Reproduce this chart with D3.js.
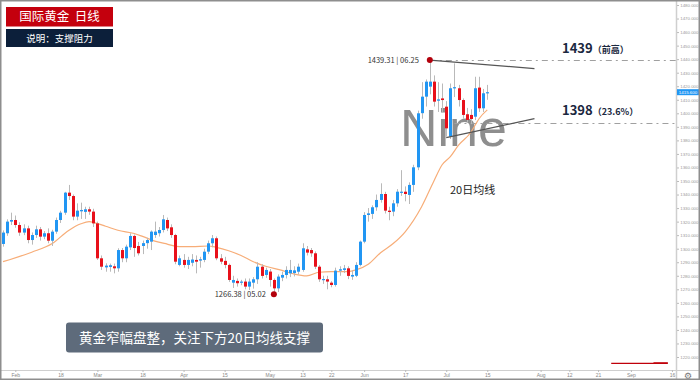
<!DOCTYPE html>
<html><head><meta charset="utf-8">
<script src="https://cdn.jsdelivr.net/npm/d3@7"></script>
<style>
body{margin:0;background:#fff}
svg{display:block}
text{font-family:"Noto Sans CJK SC","Noto Sans",sans-serif}
</style>
</head><body>
<svg id="c" width="700" height="380"></svg>
<script>
// ---- data (index 0 = 29 Jan 2019, one per trading day) ----
const opens=[1303.5,1311.4,1320.0,1321.2,1317.5,1311.9,1315.0,1306.4,1310.1,1314.3,1308.9,1311.4,1305.9,1312.6,1321.2,1326.6,1341.4,1338.9,1323.7,1327.6,
1327.2,1329.1,1327.4,1318.7,1292.9,1286.2,1286.5,1287.0,1285.5,1299.0,1292.9,1301.0,1309.4,1302.0,1302.0,1304.1,1305.2,1310.1,1311.4,1313.8,
1321.2,1315.8,1310.1,1288.0,1291.7,1288.0,1289.6,1291.7,1291.2,1291.7,1297.8,1304.0,1307.7,1292.9,1291.0,1288.0,1274.9,1276.2,1275.4,1275.7,
1272.0,1274.9,1277.4,1286.7,1280.6,1283.1,1276.9,1270.7,1278.6,1280.6,1281.8,1282.0,1283.0,1284.3,1299.5,1299.0,1296.6,1286.7,1277.0,1277.4,
1274.9,1273.2,1283.8,1284.3,1285.5,1279.4,1280.0,1288.0,1305.2,1324.9,1325.7,1330.6,1336.0,1340.4,1328.1,1327.4,1333.5,1341.4,1342.1,1339.7,
1347.1,1360.1,1400.1,1412.3,1419.7,1423.4,1409.3,1411.0,1404.9,1382.8,1418.5,1418.5,1409.8,1399.3,1398.8,1397.5,1419.0,1403.7,1414.8];
const highs=[1313.5,1321.7,1326.6,1324.5,1319.5,1318.0,1317.0,1312.0,1317.0,1316.0,1313.0,1315.0,1314.0,1323.0,1328.0,1342.0,1347.1,1340.0,1333.5,1334.0,
1331.0,1331.0,1329.5,1320.0,1295.0,1289.2,1289.0,1289.0,1300.3,1300.5,1303.0,1311.4,1310.5,1305.0,1306.0,1308.0,1313.5,1320.0,1316.0,1324.9,
1323.0,1318.0,1311.0,1295.0,1296.0,1294.0,1296.0,1295.0,1294.0,1300.0,1306.0,1310.1,1309.0,1296.0,1294.0,1289.0,1280.0,1278.0,1277.0,1278.0,
1278.0,1279.0,1290.0,1288.5,1286.0,1285.0,1278.0,1281.0,1283.0,1287.0,1291.7,1287.0,1289.0,1304.0,1302.0,1300.5,1298.0,1288.0,1280.0,1280.0,
1276.0,1286.0,1287.0,1288.0,1287.0,1284.0,1290.0,1306.0,1327.0,1330.0,1332.0,1340.0,1348.3,1342.0,1331.0,1336.0,1344.0,1358.0,1346.0,1349.0,
1362.0,1402.0,1423.0,1425.0,1439.31,1428.0,1423.0,1422.0,1409.0,1422.0,1436.9,1421.0,1411.0,1404.0,1403.0,1427.0,1427.0,1418.0,1421.0];
const lows=[1301.5,1309.5,1317.5,1315.5,1309.5,1310.0,1304.0,1303.0,1308.0,1306.0,1307.0,1304.0,1302.0,1311.0,1319.0,1325.0,1336.0,1321.0,1321.0,1322.0,
1322.0,1325.0,1316.0,1291.7,1284.3,1283.0,1283.0,1281.8,1283.0,1290.0,1290.0,1299.0,1294.0,1295.0,1296.0,1300.0,1299.0,1308.0,1309.0,1312.0,
1313.0,1308.0,1288.5,1287.0,1286.0,1285.0,1287.0,1281.8,1286.0,1290.0,1296.0,1301.0,1291.5,1288.5,1285.5,1275.5,1271.0,1272.0,1273.0,1270.0,
1269.5,1270.5,1274.0,1278.0,1278.5,1272.0,1266.38,1268.0,1276.0,1278.0,1279.0,1279.5,1281.0,1283.0,1295.0,1294.0,1285.0,1275.5,1274.0,1270.0,
1271.5,1272.0,1280.0,1282.0,1277.5,1277.0,1279.0,1287.0,1304.0,1320.0,1322.0,1328.0,1334.0,1326.0,1321.0,1324.0,1331.0,1339.0,1335.0,1333.0,
1342.0,1358.0,1396.0,1405.0,1414.0,1405.0,1401.0,1401.0,1382.8,1381.0,1412.0,1405.0,1396.0,1393.0,1392.0,1395.0,1401.0,1401.0,1410.0];
const closes=[1311.9,1320.0,1321.2,1317.5,1311.9,1315.0,1306.4,1310.1,1314.3,1308.9,1311.4,1305.9,1312.6,1321.2,1326.6,1341.4,1338.9,1323.7,1328.1,1328.6,
1329.1,1327.4,1318.7,1292.9,1286.7,1287.5,1287.8,1285.5,1299.0,1292.9,1301.5,1309.4,1300.5,1296.6,1304.1,1306.4,1312.6,1312.6,1313.8,1321.7,
1315.0,1310.1,1290.4,1292.9,1288.0,1291.7,1292.0,1290.4,1292.2,1297.8,1304.0,1307.7,1292.9,1290.4,1288.0,1276.9,1276.9,1274.5,1275.7,1272.0,
1275.7,1277.4,1286.7,1279.9,1284.3,1276.9,1270.7,1279.4,1280.6,1284.3,1284.3,1284.0,1286.7,1300.3,1297.1,1296.6,1286.7,1277.4,1277.6,1275.7,
1273.2,1283.8,1284.8,1285.5,1279.9,1280.6,1288.0,1305.2,1324.9,1326.1,1330.6,1336.0,1340.4,1328.1,1327.1,1333.5,1342.1,1342.1,1340.4,1347.1,
1360.1,1400.0,1412.3,1423.4,1423.4,1408.6,1410.3,1409.8,1388.9,1418.5,1419.3,1409.8,1398.8,1395.1,1395.8,1418.5,1403.7,1414.8,1415.6];

// 20-day moving average at these bar indices
const maIdx=[0,7,12,16,19,21,22,25,28,32,34,37,40,43,46,50,52,55,58,61,64,68,71,74,77,80,84,86,89,92,95,98,102,105,107,109,111,114,115,116,118];
const maVal=[1290.4,1297.4,1303.8,1313.5,1318.4,1320.0,1319.5,1316.6,1313.6,1311.2,1309.1,1305.6,1303.4,1301.5,1301.5,1302.0,1301.0,1298.5,1295.0,1290.4,
1287.0,1284.0,1281.2,1279.9,1282.6,1283.1,1283.1,1284.3,1288.5,1297.0,1303.6,1312.5,1331.0,1350.0,1362.0,1368.0,1376.5,1386.0,1391.0,1396.0,1402.5];

// axis ticks
const xTickIdx=[3,14,23,34,44,54,65,73,80,88,98,108,118,131,138,145,153,163];
const xTickLabels=["Feb","18","Mar","18","Apr","15","May","13","22","Jun","17","Jul","15","Aug","12","21","Sep","16"];
const yTicks=d3.range(1220,1481,10);

// annotations
const levelPrices=[1439.31,1393.2];
const levelStart=[104,110];
const levelLabels=["1439","1398"];
const levelNotes=["（前高）","（23.6%）"];
const trendUpper=[[104,1439.31],[129.5,1433.0]];
const trendLower=[[108,1382.1],[129.5,1396.0]];
const extremeIdx=[104,66];
const extremePrice=[1439.31,1266.38];
const extremeLabels=["1439.31 | 06.25","1266.38 | 05.02"];
const markerLine=[[148.2,1215.3],[162,1215.3]];

// ---- drawing ----
const svg=d3.select("#c");
const x=d3.scaleLinear().domain([0,164]).range([3,3+164*4.104]);
const y=d3.scaleLinear().domain([1220,1480]).range([357,5]);
const W=700,H=380,plotR=676,axisY=370;
const smallFont="'Liberation Sans',Arial,sans-serif";

svg.append("rect").attr("width",W).attr("height",H).attr("fill","#fff");

// watermark
svg.append("text").attr("x",400).attr("y",146).text("Nine")
  .style("font-family",smallFont).style("font-size","52px")
  .attr("fill","#8e8e8e");

// dashed levels
levelPrices.forEach((p,k)=>{
  svg.append("line").attr("x1",x(levelStart[k])).attr("x2",plotR)
    .attr("y1",Math.round(y(p))+0.5).attr("y2",Math.round(y(p))+0.5)
    .attr("stroke","#a0a0a0").attr("stroke-width",1).attr("stroke-dasharray","6,4,2,4");
});

// MA line
const maData=maIdx.map((d,i)=>[d,maVal[i]]);
svg.append("path").datum(maData)
  .attr("d",d3.line().x(d=>x(d[0])).y(d=>y(d[1])).curve(d3.curveMonotoneX))
  .attr("fill","none").attr("stroke","#f7ad78").attr("stroke-width",1.2);

// candles
const candles=opens.map((o,i)=>({i,o,h:highs[i],l:lows[i],c:closes[i]}));
const g=svg.append("g");
g.selectAll("line.w").data(candles).join("line")
  .attr("x1",d=>Math.round(x(d.i))+0.5).attr("x2",d=>Math.round(x(d.i))+0.5)
  .attr("y1",d=>y(d.h)).attr("y2",d=>y(d.l))
  .attr("stroke","#b9b9b9").attr("stroke-width",1);
g.selectAll("rect.b").data(candles).join("rect")
  .attr("x",d=>Math.round(x(d.i))-1).attr("width",3)
  .attr("y",d=>y(Math.max(d.o,d.c)))
  .attr("height",d=>Math.max(1.2,Math.abs(y(d.o)-y(d.c))))
  .attr("fill",d=>d.c>=d.o?"#2196f3":"#e8101a");

// trend lines
[trendUpper,trendLower].forEach(t=>{
  svg.append("line").attr("x1",x(t[0][0])).attr("y1",y(t[0][1]))
    .attr("x2",x(t[1][0])).attr("y2",y(t[1][1]))
    .attr("stroke","#555").attr("stroke-width",1.3);
});

// extremes
extremeIdx.forEach((ix,k)=>{
  svg.append("circle").attr("cx",x(ix)).attr("cy",y(extremePrice[k])).attr("r",3).attr("fill","#b3000c");
  svg.append("text").attr("x",x(ix)-(k===0?11:8)).attr("y",y(extremePrice[k])+2.6)
    .attr("text-anchor","end").style("font-size","7.5px").attr("fill","#333").text(extremeLabels[k]);
});

// level labels
levelLabels.forEach((lab,k)=>{
  const t=svg.append("text").attr("x",562).attr("y",y(levelPrices[k])-7.5).attr("fill","#1b2840");
  t.append("tspan").style("font-size","13px").style("font-weight","bold").text(lab);
  t.append("tspan").style("font-size","9px").style("font-weight","bold").text(levelNotes[k]);
});

svg.append("text").attr("x",450).attr("y",194).style("font-size","11px").attr("fill","#222").text("20日均线");

// marker line bottom-right
svg.append("line").attr("x1",x(markerLine[0][0])).attr("x2",x(markerLine[1][0]))
  .attr("y1",y(markerLine[0][1])).attr("y2",y(markerLine[1][1]))
  .attr("stroke","#c0000a").attr("stroke-width",1.4);
svg.append("line").attr("x1",x(158.5)).attr("x2",x(markerLine[1][0]))
  .attr("y1",y(markerLine[0][1])-0.6).attr("y2",y(markerLine[1][1])-0.6)
  .attr("stroke","#c0000a").attr("stroke-width",1);

// axes frame lines
svg.append("line").attr("x1",plotR+0.5).attr("x2",plotR+0.5).attr("y1",0).attr("y2",H).attr("stroke","#cfcfcf").attr("stroke-width",1.5);
svg.append("line").attr("x1",0).attr("x2",W).attr("y1",axisY+0.5).attr("y2",axisY+0.5).attr("stroke","#cfcfcf").attr("stroke-width",1.2);

// y axis
const ya=svg.append("g").attr("transform",`translate(${plotR+1},0)`)
  .call(d3.axisRight(y).tickValues(yTicks).tickFormat(d3.format(".3f")).tickSize(2).tickPadding(1.2));
ya.select(".domain").remove();
ya.selectAll("line").attr("stroke","#bbb");
ya.selectAll("text").style("font-size","4.4px").attr("fill","#9a9a9a").style("font-family",smallFont);

// x axis
const xa=svg.append("g").attr("transform",`translate(0,${axisY})`)
  .call(d3.axisBottom(x).tickValues(xTickIdx).tickFormat((d,i)=>xTickLabels[i]).tickSize(2).tickPadding(1.5));
xa.select(".domain").remove();
xa.selectAll("line").attr("stroke","#bbb");
xa.selectAll("text").style("font-size","5px").attr("fill","#888").style("font-family",smallFont);

// last price tag
const last=closes[closes.length-1];
svg.append("rect").attr("x",plotR+1).attr("y",y(last)-3).attr("width",22).attr("height",6).attr("fill","#2196f3");
svg.append("text").attr("x",plotR+12).attr("y",y(last)+1.6).attr("text-anchor","middle")
  .style("font-size","4.4px").style("font-family",smallFont).attr("fill","#fff").text(last.toFixed(3));

// gear
svg.append("text").attr("x",688).attr("y",378.5).attr("text-anchor","middle")
  .style("font-family","'DejaVu Sans',sans-serif").style("font-size","9px").attr("fill","#777").text("⚙");

// title boxes
svg.append("rect").attr("x",6).attr("y",7).attr("width",107).attr("height",19.5).attr("fill","#c4000d");
svg.append("text").attr("x",59.5).attr("y",21.3).attr("text-anchor","middle").style("font-size","12.5px").attr("fill","#fff")
  .attr("xml:space","preserve").text("国际黄金  日线");
svg.append("rect").attr("x",6).attr("y",29).attr("width",107).attr("height",18).attr("fill","#0c1f3a");
svg.append("text").attr("x",59.5).attr("y",41.6).attr("text-anchor","middle").style("font-size","9.5px").attr("fill","#fff").text("说明：支撑阻力");

// bottom comment
svg.append("rect").attr("x",66).attr("y",322.5).attr("width",257).attr("height",30).attr("rx",3).attr("fill","#5e6b7b");
svg.append("text").attr("x",194.5).attr("y",343).attr("text-anchor","middle").style("font-size","13.5px").attr("fill","#fff")
  .text("黄金窄幅盘整，关注下方20日均线支撑");

// outer frame
svg.append("rect").attr("x",0.75).attr("y",0.75).attr("width",W-1.5).attr("height",H-1.5)
  .attr("fill","none").attr("stroke","#8e8e8e").attr("stroke-width",1.5);
</script>
</body></html>
